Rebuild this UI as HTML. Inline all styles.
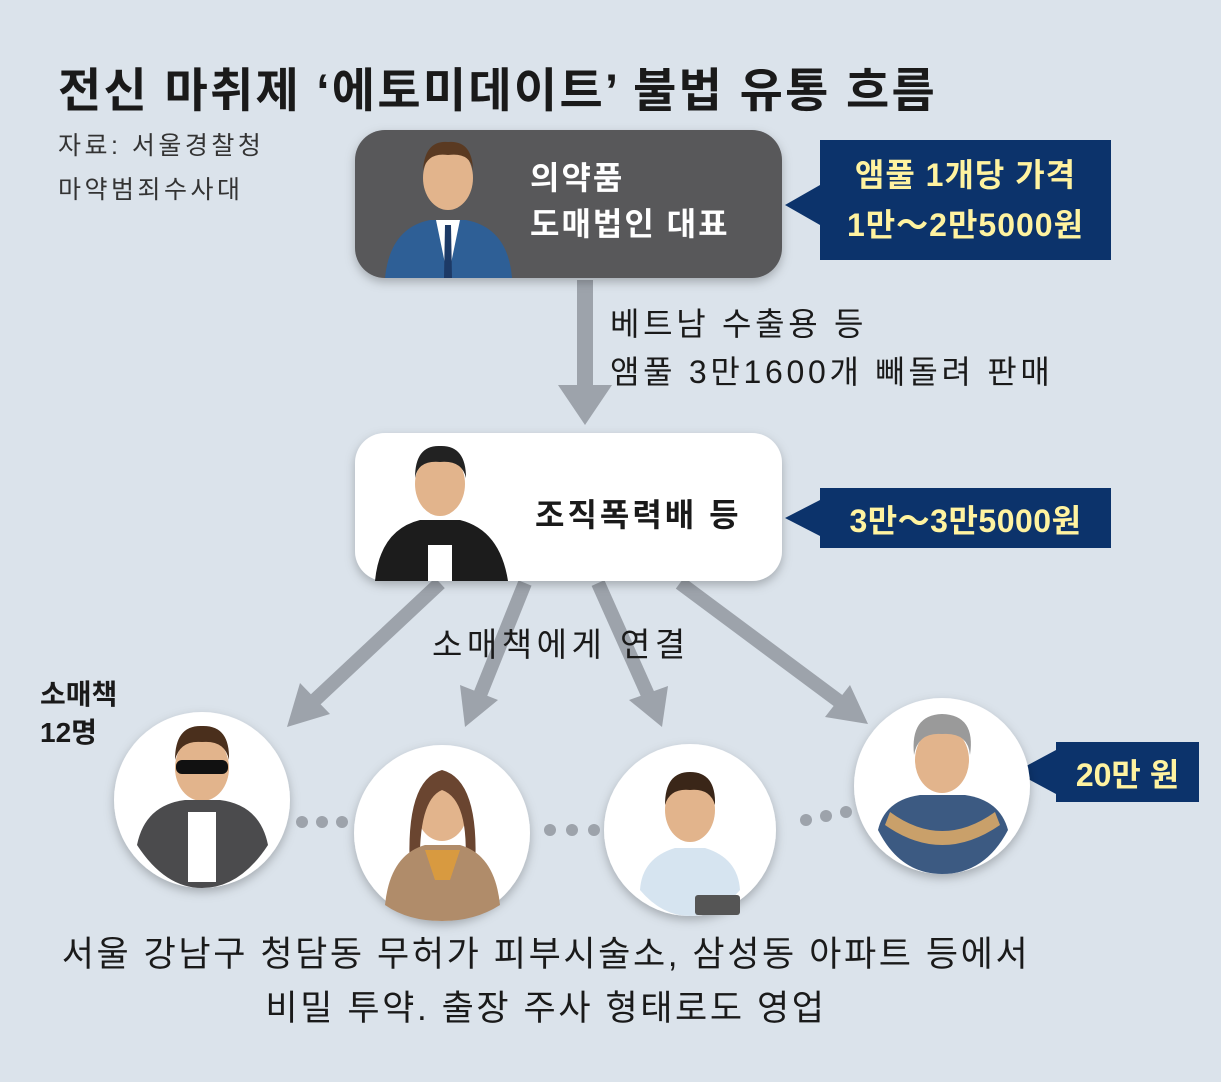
<!DOCTYPE html>
<html><head><meta charset="utf-8"><style>
body{margin:0;width:1221px;height:1082px;background:#dbe3eb;position:relative;overflow:hidden;font-family:"Liberation Sans","Noto Sans CJK KR",sans-serif}
.a{position:absolute}
.t{white-space:nowrap}
</style></head><body>
<div class="a t" style="left:58px;top:52px;font-size:47px;font-weight:bold;color:#1a1a1a;letter-spacing:2.3px">전신 마취제 ‘에토미데이트’ 불법 유통 흐름</div>
<div class="a t" style="left:58px;top:124px;font-size:25px;color:#333;line-height:44px;letter-spacing:3.5px">자료: 서울경찰청<br>마약범죄수사대</div>

<svg class="a" style="left:0;top:0" width="1221" height="1082">
<defs><filter id="sh" x="-10%" y="-10%" width="120%" height="130%"><feDropShadow dx="0" dy="4" stdDeviation="5" flood-color="#000" flood-opacity="0.25"/></filter></defs>
<g fill="#9da3ab" stroke="#9da3ab">
<line x1="585" y1="280" x2="585" y2="390" stroke-width="16"/>
<polygon points="558,385 612,385 585,425" stroke="none"/>
<line x1="440" y1="583" x2="315" y2="700" stroke-width="14"/>
<polygon points="287,727 300,683 330,714" stroke="none"/>
<line x1="525" y1="583" x2="480" y2="695" stroke-width="14"/>
<polygon points="465,727 460,685 498,700" stroke="none"/>
<line x1="598" y1="583" x2="648" y2="695" stroke-width="14"/>
<polygon points="662,727 629,700 668,686" stroke="none"/>
<line x1="680" y1="583" x2="840" y2="702" stroke-width="14"/>
<polygon points="868,724 825,717 850,685" stroke="none"/>
</g>
<rect x="355" y="130" width="427" height="148" rx="30" fill="#58585a" filter="url(#sh)"/>
<rect x="355" y="433" width="427" height="148" rx="30" fill="#fff" filter="url(#sh)"/>
<polygon points="785,205 820,185 820,225" fill="#0c336b"/>
<rect x="820" y="140" width="291" height="120" fill="#0c336b"/>
<polygon points="785,518 820,500 820,536" fill="#0c336b"/>
<rect x="820" y="488" width="291" height="60" fill="#0c336b"/>
<polygon points="1015,772 1056,750 1056,794" fill="#0c336b"/>
<rect x="1056" y="742" width="143" height="60" fill="#0c336b"/>
<g><ellipse cx="448" cy="178" rx="25" ry="32" fill="#e2b48c"/><path d="M423,170 Q425,140 448,142 Q472,140 473,170 Q470,152 448,155 Q428,152 423,170Z" fill="#5a3a22"/><path d="M385,278 Q390,228 430,220 L466,220 Q508,228 512,278Z" fill="#2e5f96"/><polygon points="436,220 460,220 448,278" fill="#fff"/><polygon points="445,225 451,225 452,278 444,278" fill="#1d3a66"/></g>
<g><ellipse cx="440" cy="484" rx="25" ry="32" fill="#e2b48c"/><path d="M415,478 Q415,445 440,446 Q466,445 466,478 Q462,460 440,462 Q418,460 415,478Z" fill="#222"/><path d="M375,581 Q380,530 420,520 L460,520 Q500,530 508,581Z" fill="#1c1c1c"/><rect x="428" y="545" width="24" height="36" fill="#fff"/></g>
<g fill="#fff" filter="url(#sh)"><circle cx="202" cy="800" r="88"/><circle cx="442" cy="833" r="88"/><circle cx="690" cy="830" r="86"/><circle cx="942" cy="786" r="88"/></g>
<g>
<ellipse cx="202" cy="768" rx="27" ry="33" fill="#e2b48c"/><path d="M175,760 Q175,725 202,726 Q230,725 229,760 Q225,740 202,742 Q180,740 175,760Z" fill="#4a2f1c"/><rect x="176" y="760" width="52" height="14" rx="6" fill="#111"/><path d="M137,845 Q145,805 185,800 L220,800 Q260,805 268,845 Q240,888 202,888 Q165,888 137,845Z" fill="#4b4b4d"/><rect x="188" y="812" width="28" height="70" fill="#fff"/>
<ellipse cx="442" cy="808" rx="26" ry="33" fill="#e2b48c"/><path d="M410,870 Q405,780 442,770 Q480,780 475,870 L465,870 Q470,800 442,790 Q418,800 420,870Z" fill="#6a4530"/><path d="M385,905 Q390,855 425,845 L460,845 Q495,855 500,905 Q475,921 442,921 Q408,921 385,905Z" fill="#b08c6a"/><polygon points="425,850 460,850 450,880 435,880" fill="#d89a40"/>
<ellipse cx="690" cy="810" rx="25" ry="32" fill="#e2b48c"/><path d="M665,805 Q665,772 690,772 Q716,772 715,805 Q710,788 690,790 Q670,788 665,805Z" fill="#3a2618"/><path d="M640,890 Q642,858 675,848 L705,848 Q738,858 740,890 Q718,916 690,916 Q662,916 640,890Z" fill="#d6e4f0"/><rect x="695" y="895" width="45" height="20" rx="3" fill="#555"/>
<ellipse cx="942" cy="760" rx="27" ry="33" fill="#e2b48c"/><path d="M914,755 Q910,715 942,714 Q976,715 970,755 Q968,732 942,734 Q918,732 914,755Z" fill="#9a9a9a"/><path d="M878,830 Q885,800 920,795 L965,795 Q1000,800 1008,830 Q985,874 942,874 Q900,874 878,830Z" fill="#3c5a82"/><path d="M890,812 Q942,850 995,812 L1000,825 Q942,865 885,825Z" fill="#c9a06a"/>
</g>
<g fill="#9da3ab"><circle cx="302" cy="822" r="6"/><circle cx="322" cy="822" r="6"/><circle cx="342" cy="822" r="6"/><circle cx="550" cy="830" r="6"/><circle cx="572" cy="830" r="6"/><circle cx="594" cy="830" r="6"/><circle cx="806" cy="820" r="6"/><circle cx="826" cy="816" r="6"/><circle cx="846" cy="812" r="6"/></g>
</svg>

<div class="a t" style="left:530px;top:155px;font-size:32px;font-weight:bold;color:#fff;line-height:46px;letter-spacing:2px">의약품<br>도매법인 대표</div>
<div class="a t" style="left:820px;top:150px;width:291px;text-align:center;font-size:32px;font-weight:bold;color:#fff3a0;line-height:50px;letter-spacing:1px">앰풀 1개당 가격<br>1만～2만5000원</div>
<div class="a t" style="left:610px;top:300px;font-size:32px;color:#1a1a1a;line-height:48px;letter-spacing:3.7px">베트남 수출용 등<br>앰풀 3만1600개 빼돌려 판매</div>
<div class="a t" style="left:535px;top:490px;font-size:32px;font-weight:bold;color:#1a1a1a;letter-spacing:3px">조직폭력배 등</div>
<div class="a t" style="left:820px;top:496px;width:291px;text-align:center;font-size:32px;font-weight:bold;color:#fff3a0;letter-spacing:0.5px">3만～3만5000원</div>
<div class="a t" style="left:432px;top:618px;font-size:33px;color:#1a1a1a;letter-spacing:4.5px">소매책에게 연결</div>
<div class="a t" style="left:40px;top:676px;font-size:28px;font-weight:bold;color:#1a1a1a;line-height:38px">소매책<br>12명</div>
<div class="a t" style="left:1056px;top:750px;width:143px;text-align:center;font-size:32px;font-weight:bold;color:#fff3a0">20만 원</div>
<div class="a t" style="left:0;top:928px;width:1092px;text-align:center;font-size:35px;color:#1a1a1a;line-height:54px;letter-spacing:2.6px">서울 강남구 청담동 무허가 피부시술소, 삼성동 아파트 등에서<br>비밀 투약. 출장 주사 형태로도 영업</div>
</body></html>
